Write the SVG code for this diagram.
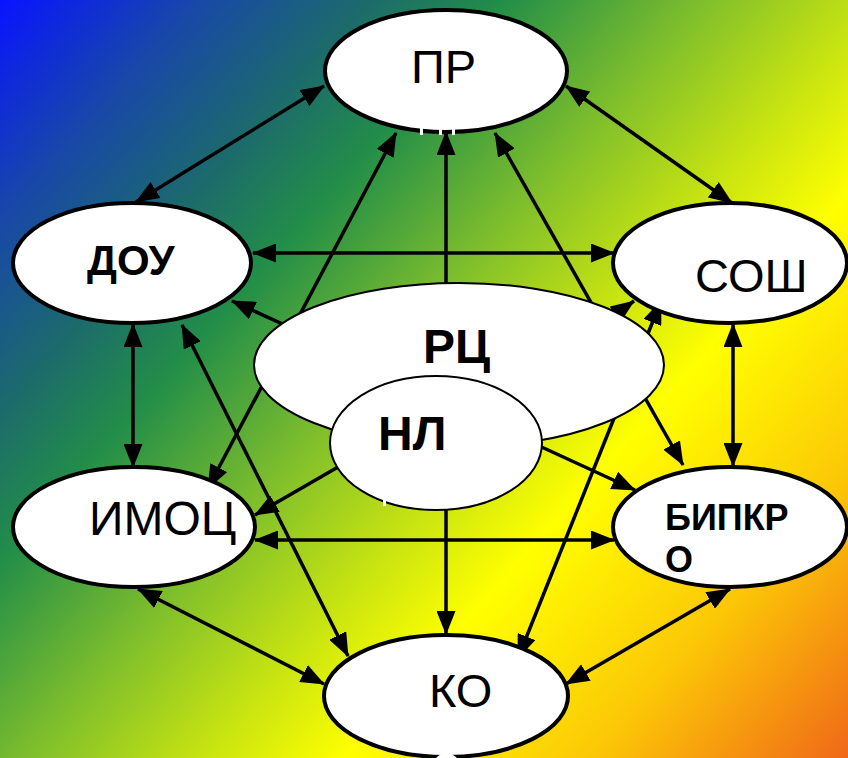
<svg xmlns="http://www.w3.org/2000/svg" width="848" height="758" viewBox="0 0 848 758">
  <defs>
    <linearGradient id="bg" gradientUnits="userSpaceOnUse" x1="0" y1="0" x2="848" y2="758">
      <stop offset="0" stop-color="#0814ff"/>
      <stop offset="0.13" stop-color="#1848a8"/>
      <stop offset="0.24" stop-color="#1c6a6c"/>
      <stop offset="0.33" stop-color="#228e48"/>
      <stop offset="0.46" stop-color="#7ebe2c"/>
      <stop offset="0.57" stop-color="#c4e212"/>
      <stop offset="0.67" stop-color="#ffff00"/>
      <stop offset="0.83" stop-color="#fcc806"/>
      <stop offset="1" stop-color="#f06818"/>
    </linearGradient>
    <marker id="ah" viewBox="0 0 24 19" refX="23" refY="9.5" markerWidth="24" markerHeight="19" markerUnits="userSpaceOnUse" orient="auto-start-reverse">
      <path d="M0,0 L24,9.5 L0,19 z" fill="#000"/>
    </marker>
    <style>
      .c { stroke: #000; stroke-width: 3.5; fill: none; marker-end: url(#ah); }
      .d { marker-start: url(#ah); }
      .n { fill: #fff; stroke: #000; stroke-width: 4; }
      .m { fill: #fff; stroke: #000; stroke-width: 2; }
      .t { font-family: "Liberation Sans", Arial, sans-serif; fill: #000; }
      .b { font-weight: bold; }
    </style>
  </defs>
  <rect x="0" y="0" width="848" height="758" fill="url(#bg)"/>

  <g id="connectors">
    <line class="c d" x1="324" y1="86" x2="136" y2="202"/>
    <line class="c d" x1="566" y1="86" x2="732" y2="203"/>
    <line class="c d" x1="253" y1="253" x2="614" y2="253"/>
    <line class="c d" x1="133" y1="324" x2="133" y2="467"/>
    <line class="c d" x1="733" y1="324" x2="733" y2="466"/>
    <line class="c d" x1="255" y1="540" x2="614" y2="540"/>
    <line class="c d" x1="138" y1="589" x2="324" y2="684"/>
    <line class="c d" x1="730" y1="589" x2="566" y2="684"/>
    <line class="c" x1="446" y1="290" x2="446" y2="132"/>
    <line class="c" x1="446" y1="505" x2="446" y2="634"/>
    <line class="c d" x1="182" y1="325" x2="348" y2="656"/>
    <line class="c d" x1="208" y1="488" x2="396" y2="133"/>
    <line class="c d" x1="495" y1="133" x2="683" y2="465"/>
    <line class="c d" x1="518" y1="658" x2="661" y2="301"/>
    <line class="c" x1="300" y1="332" x2="232" y2="301"/>
    <line class="c" x1="600" y1="325" x2="634" y2="301"/>
    <line class="c" x1="345" y1="463" x2="255" y2="515"/>
    <line class="c" x1="535" y1="444" x2="635" y2="490"/>
  </g>

  <g id="PR">
    <ellipse class="n" cx="446" cy="71" rx="121" ry="61"/>
    <text class="t" x="411" y="83" font-size="47">ПР</text>
    <rect x="420" y="126" width="3" height="9" fill="#fff"/>
    <rect x="439" y="126" width="3" height="9" fill="#fff"/>
    <rect x="452" y="126" width="3" height="9" fill="#fff"/>
  </g>
  <g id="DOU">
    <ellipse class="n" cx="132" cy="263" rx="119" ry="60"/>
    <text class="t b" x="87" y="275" font-size="42">ДОУ</text>
  </g>
  <g id="SOSH">
    <ellipse class="n" cx="730" cy="263" rx="117" ry="60"/>
    <text class="t" x="695" y="292" font-size="47">СОШ</text>
  </g>
  <g id="IMOC">
    <ellipse class="n" cx="134" cy="527" rx="121" ry="60"/>
    <text class="t" x="89" y="535" font-size="48">ИМОЦ</text>
  </g>
  <g id="BIPKRO">
    <ellipse class="n" cx="730" cy="527" rx="117" ry="60"/>
    <text class="t b" x="665" y="530" font-size="36">БИПКР</text>
    <text class="t b" x="665" y="572" font-size="36">О</text>
  </g>
  <g id="KO">
    <ellipse class="n" cx="446" cy="696" rx="122" ry="61"/>
    <text class="t" x="429" y="707" font-size="47">КО</text>
    <path d="M436,758 Q446,748 457,758 Z" fill="#fff"/>
  </g>
  <g id="RC">
    <ellipse class="m" cx="459" cy="365" rx="205" ry="82"/>
    <text class="t b" x="423" y="363" font-size="48">РЦ</text>
  </g>
  <g id="NL">
    <ellipse class="m" cx="436" cy="443" rx="106" ry="67"/>
    <text class="t b" x="378" y="450" font-size="48">НЛ</text>
    <rect x="383" y="492" width="3" height="14" fill="#fff"/>
  </g>
</svg>
